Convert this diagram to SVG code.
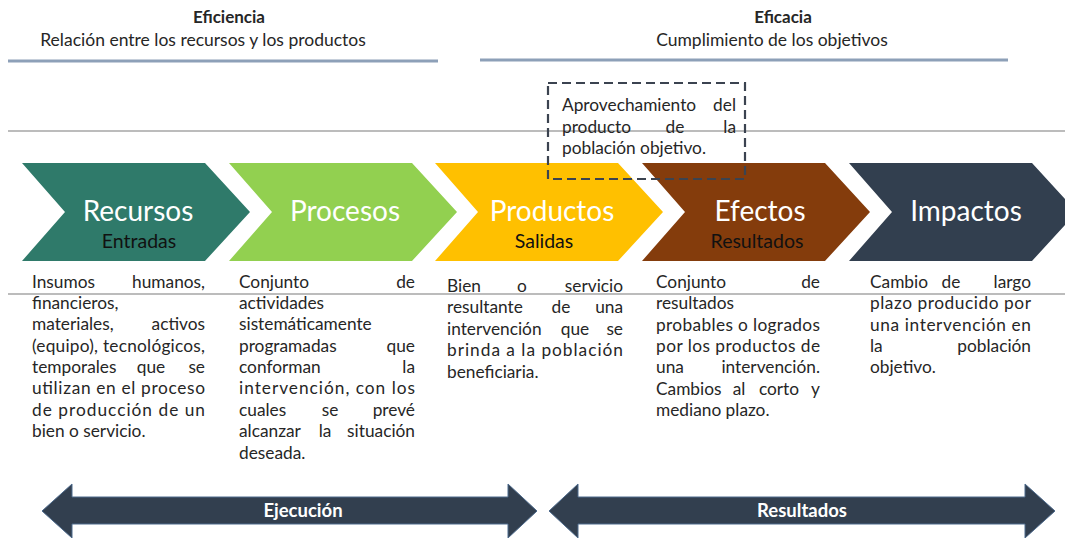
<svg xmlns="http://www.w3.org/2000/svg" width="1065" height="538" viewBox="0 0 1065 538">
<style>
.t{font-family:Lato,"Liberation Sans",sans-serif;fill:#262626}
.h{font-size:17.5px}
.hb{font-size:17px;font-weight:bold}
.b{font-size:17.3px}
.big{font-family:Lato,"Liberation Sans",sans-serif;font-size:28px;fill:#ffffff;text-anchor:middle}
.sub{font-family:Lato,"Liberation Sans",sans-serif;font-size:19.5px;fill:#111111;text-anchor:middle}
.e{text-anchor:end}
.m{text-anchor:middle}
.gl{stroke:#a6a6a6;stroke-width:1.5}
.bl{stroke:#8da0b8;stroke-width:3}
.arr{fill:#323f4f;stroke:#4d6a8c;stroke-width:1}
.al{font-family:Lato,"Liberation Sans",sans-serif;font-size:18.5px;font-weight:bold;fill:#ffffff;text-anchor:middle}
</style>

<g id="headers">
<text class="t hb m" x="229" y="23">Eficiencia</text>
<text class="t h m" x="203" y="46">Relación entre los recursos y los productos</text>
<text class="t hb m" x="783" y="23">Eficacia</text>
<text class="t h m" x="772" y="46">Cumplimiento de los objetivos</text>
<line class="bl" x1="8" y1="61" x2="438" y2="61"/>
<line class="bl" x1="480" y1="60" x2="1008" y2="60"/>
</g>

<g id="guides">
<line class="gl" x1="8" y1="131" x2="1065" y2="131"/>
<line class="gl" x1="8" y1="294" x2="1065" y2="294"/>
</g>

<g id="recursos">
<polygon points="22,163 205,163 250,212 205,261 22,261 65,212" fill="#2f7a6a"/>
<text class="big" x="138" y="221">Recursos</text>
<text class="sub" x="139" y="248">Entradas</text>
</g>
<g id="procesos">
<polygon points="229,163 412,163 457,212 412,261 229,261 272,212" fill="#92d050"/>
<text class="big" x="345" y="221">Procesos</text>
</g>
<g id="productos">
<polygon points="435,163 618,163 663,212 618,261 435,261 478,212" fill="#ffc000"/>
<text class="big" x="552" y="221">Productos</text>
<text class="sub" x="544" y="248">Salidas</text>
</g>
<g id="efectos">
<polygon points="642,163 825,163 870,212 825,261 642,261 685,212" fill="#843c0c"/>
<text class="big" x="760" y="221">Efectos</text>
<text class="sub" x="757" y="248">Resultados</text>
</g>
<g id="impactos">
<polygon points="849,163 1032,163 1077,212 1032,261 849,261 892,212" fill="#323f4f"/>
<text class="big" x="966" y="221">Impactos</text>
</g>

<g id="nota">
<rect x="548" y="83" width="197" height="96" fill="none" stroke="#3b4350" stroke-width="2.2" stroke-dasharray="9,5"/>
<text class="t b" x="562" y="111">Aprovechamiento</text>
<text class="t b e" x="736" y="111">del</text>
<text class="t b" x="562" y="133">producto</text>
<text class="t b m" x="675" y="133">de</text>
<text class="t b e" x="736" y="133">la</text>
<text class="t b" x="562" y="154">población objetivo.</text>
</g>

<g id="desc-recursos">
<text class="t b" x="32" y="288">Insumos</text><text class="t b e" x="205" y="288">humanos,</text>
<text class="t b" x="32" y="309">financieros,</text>
<text class="t b" x="32" y="330">materiales,</text><text class="t b e" x="205" y="330">activos</text>
<text class="t b" x="32" y="352" textLength="173" lengthAdjust="spacing">(equipo), tecnológicos,</text>
<text class="t b" x="32" y="373">temporales</text><text class="t b m" x="151" y="373">que</text><text class="t b e" x="205" y="373">se</text>
<text class="t b" x="32" y="394" textLength="173" lengthAdjust="spacing">utilizan en el proceso</text>
<text class="t b" x="32" y="416" textLength="173" lengthAdjust="spacing">de producción de un</text>
<text class="t b" x="32" y="437">bien o servicio.</text>
</g>

<g id="desc-procesos">
<text class="t b" x="239" y="288">Conjunto</text><text class="t b e" x="415" y="288">de</text>
<text class="t b" x="239" y="309">actividades</text>
<text class="t b" x="239" y="330">sistemáticamente</text>
<text class="t b" x="239" y="352">programadas</text><text class="t b e" x="415" y="352">que</text>
<text class="t b" x="239" y="373">conforman</text><text class="t b e" x="415" y="373">la</text>
<text class="t b" x="239" y="394" textLength="176" lengthAdjust="spacing">intervención, con los</text>
<text class="t b" x="239" y="416">cuales</text><text class="t b m" x="330" y="416">se</text><text class="t b e" x="415" y="416">prevé</text>
<text class="t b" x="239" y="437">alcanzar</text><text class="t b m" x="325" y="437">la</text><text class="t b e" x="415" y="437">situación</text>
<text class="t b" x="239" y="459">deseada.</text>
</g>

<g id="desc-productos">
<text class="t b" x="447" y="292">Bien</text><text class="t b m" x="522" y="292">o</text><text class="t b e" x="623" y="292">servicio</text>
<text class="t b" x="447" y="313">resultante</text><text class="t b m" x="561" y="313">de</text><text class="t b e" x="623" y="313">una</text>
<text class="t b" x="447" y="335">intervención</text><text class="t b m" x="575" y="335">que</text><text class="t b e" x="623" y="335">se</text>
<text class="t b" x="447" y="356" textLength="176" lengthAdjust="spacing">brinda a la población</text>
<text class="t b" x="447" y="378">beneficiaria.</text>
</g>

<g id="desc-efectos">
<text class="t b" x="656" y="288">Conjunto</text><text class="t b e" x="820" y="288">de</text>
<text class="t b" x="656" y="309">resultados</text>
<text class="t b" x="656" y="331" textLength="164" lengthAdjust="spacing">probables o logrados</text>
<text class="t b" x="656" y="352" textLength="164" lengthAdjust="spacing">por los productos de</text>
<text class="t b" x="656" y="373">una</text><text class="t b e" x="820" y="373">intervención.</text>
<text class="t b" x="656" y="395">Cambios</text><text class="t b m" x="739" y="395">al</text><text class="t b m" x="779" y="395">corto</text><text class="t b e" x="820" y="395">y</text>
<text class="t b" x="656" y="416">mediano plazo.</text>
</g>

<g id="desc-impactos">
<text class="t b" x="870" y="288">Cambio</text><text class="t b m" x="951" y="288">de</text><text class="t b e" x="1031" y="288">largo</text>
<text class="t b" x="870" y="309" textLength="161" lengthAdjust="spacing">plazo producido por</text>
<text class="t b" x="870" y="331" textLength="161" lengthAdjust="spacing">una intervención en</text>
<text class="t b" x="870" y="352">la</text><text class="t b e" x="1031" y="352">población</text>
<text class="t b" x="870" y="373">objetivo.</text>
</g>

<g id="connectors">
<g id="ejecucion">
<polygon class="arr" points="42,511 72,484 72,497 508,497 508,484 537,511 508,538 508,524 72,524 72,538"/>
<text class="al" x="303" y="517">Ejecución</text>
</g>
<g id="resultados">
<polygon class="arr" points="549,511 578,484 578,497 1025,497 1025,484 1055,511 1025,538 1025,524 578,524 578,538"/>
<text class="al" x="802" y="517">Resultados</text>
</g>
</g>
</svg>
